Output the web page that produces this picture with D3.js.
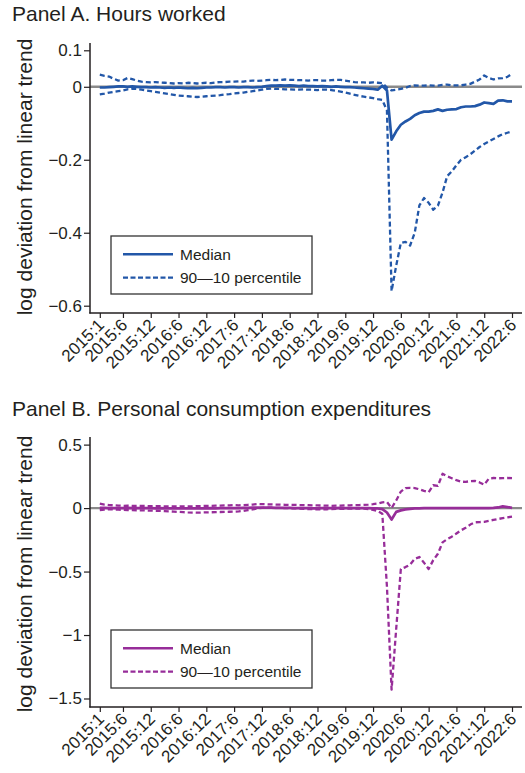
<!DOCTYPE html>
<html>
<head>
<meta charset="utf-8">
<script src="https://cdn.jsdelivr.net/npm/d3@7/dist/d3.min.js"></script>
<style>
  html, body { margin: 0; padding: 0; background: #fff; }
  svg { display: block; font-family: "Liberation Sans", Arial, Helvetica, sans-serif; }
</style>
</head>
<body>
<svg id="chart" width="525" height="773"></svg>
<script>
// Monthly observations, 2015:1 through 2022:6 (90 months)
const monthIndex = d3.range(90);

// X-axis tick positions (month index) and their labels
const tickIndex = [0, 5, 11, 17, 23, 29, 35, 41, 47, 53, 59, 65, 71, 77, 83, 89];
const tickLabels = ["2015:1", "2015:6", "2015:12", "2016:6", "2016:12", "2017:6", "2017:12",
  "2018:6", "2018:12", "2019:6", "2019:12", "2020:6", "2020:12", "2021:6", "2021:12", "2022:6"];

// Panel A: hours worked, log deviation from linear trend
const hoursMedian = [
  -0.002, -0.002, -0.001, 0.000, 0.001, 0.001, 0.000, 0.001, 0.000, -0.001,
  -0.001, -0.002, -0.001, -0.002, -0.003, -0.002, -0.003, -0.002, -0.003, -0.004,
  -0.003, -0.004, -0.003, -0.002, -0.002, -0.001, -0.001, -0.002, -0.001, -0.001,
  -0.002, -0.001, -0.001, -0.002, -0.001, 0.000, 0.002, 0.003, 0.003, 0.004,
  0.003, 0.004, 0.003, 0.002, 0.003, 0.002, 0.002, 0.001, 0.002, 0.001,
  0.000, 0.001, 0.000, -0.001, -0.001, -0.002, -0.003, -0.004, -0.005, -0.006,
  -0.008, 0.003, -0.010, -0.145, -0.122, -0.104, -0.095, -0.088, -0.078, -0.072,
  -0.068, -0.068, -0.066, -0.062, -0.066, -0.063, -0.062, -0.061, -0.056, -0.054,
  -0.054, -0.053, -0.049, -0.043, -0.045, -0.047, -0.038, -0.037, -0.040, -0.040
];
const hoursP90 = [
  0.033, 0.030, 0.028, 0.022, 0.017, 0.018, 0.024, 0.021, 0.017, 0.014,
  0.013, 0.012, 0.013, 0.012, 0.011, 0.010, 0.009, 0.010, 0.009, 0.011,
  0.010, 0.009, 0.010, 0.011, 0.010, 0.012, 0.013, 0.013, 0.014, 0.014,
  0.015, 0.014, 0.016, 0.017, 0.016, 0.017, 0.018, 0.019, 0.018, 0.019,
  0.020, 0.019, 0.019, 0.018, 0.018, 0.017, 0.018, 0.018, 0.017, 0.017,
  0.018, 0.019, 0.019, 0.017, 0.015, 0.013, 0.012, 0.012, 0.011, 0.012,
  0.011, 0.010, -0.002, -0.010, -0.008, -0.006, -0.003, 0.002, 0.004, 0.003,
  0.003, 0.004, 0.003, 0.003, 0.005, 0.006, 0.004, 0.004, 0.004, 0.006,
  0.008, 0.014, 0.020, 0.031, 0.024, 0.020, 0.023, 0.024, 0.027, 0.036
];
const hoursP10 = [
  -0.021, -0.019, -0.016, -0.014, -0.012, -0.010, -0.007, -0.005, -0.006, -0.008,
  -0.010, -0.012, -0.014, -0.016, -0.018, -0.020, -0.022, -0.024, -0.025, -0.026,
  -0.027, -0.028, -0.027, -0.026, -0.025, -0.024, -0.023, -0.021, -0.020, -0.018,
  -0.017, -0.016, -0.014, -0.012, -0.010, -0.008, -0.006, -0.005, -0.006, -0.006,
  -0.007, -0.007, -0.008, -0.008, -0.007, -0.008, -0.008, -0.009, -0.008, -0.008,
  -0.009, -0.011, -0.013, -0.016, -0.019, -0.022, -0.025, -0.027, -0.029, -0.031,
  -0.034, -0.036, -0.065, -0.560, -0.490, -0.428, -0.425, -0.435, -0.400, -0.325,
  -0.305, -0.318, -0.337, -0.326, -0.290, -0.245, -0.232, -0.215, -0.200, -0.193,
  -0.185, -0.175, -0.165, -0.157, -0.150, -0.143, -0.136, -0.130, -0.126, -0.122
];

// Panel B: personal consumption expenditures, log deviation from linear trend
const pceMedian = [
  0.002, 0.001, 0.000, 0.000, -0.001, 0.000, 0.001, 0.000, -0.001, -0.001,
  0.000, -0.001, -0.002, -0.001, -0.002, -0.002, -0.003, -0.002, -0.003, -0.003,
  -0.002, -0.003, -0.002, -0.002, -0.001, -0.002, -0.001, -0.001, 0.000, -0.001,
  0.000, 0.001, 0.002, 0.003, 0.004, 0.004, 0.003, 0.003, 0.002, 0.002,
  0.001, 0.001, 0.000, 0.000, -0.001, -0.001, -0.002, -0.002, -0.001, -0.001,
  0.000, 0.000, 0.001, 0.000, 0.000, -0.001, 0.000, 0.000, -0.001, -0.002,
  -0.003, -0.008, -0.035, -0.090, -0.030, -0.018, -0.010, -0.006, -0.003, -0.002,
  -0.001, -0.001, 0.000, 0.000, 0.000, 0.000, 0.000, 0.000, 0.000, 0.000,
  0.000, 0.000, 0.000, 0.000, 0.000, 0.001, 0.005, 0.013, 0.008, 0.002
];
const pceP90 = [
  0.035, 0.028, 0.024, 0.022, 0.020, 0.018, 0.019, 0.017, 0.018, 0.017,
  0.016, 0.015, 0.016, 0.015, 0.014, 0.014, 0.013, 0.013, 0.014, 0.013,
  0.014, 0.015, 0.016, 0.017, 0.018, 0.019, 0.020, 0.021, 0.022, 0.023,
  0.022, 0.024, 0.026, 0.028, 0.032, 0.031, 0.030, 0.029, 0.028, 0.027,
  0.026, 0.025, 0.025, 0.024, 0.024, 0.023, 0.022, 0.021, 0.020, 0.019,
  0.018, 0.019, 0.020, 0.021, 0.022, 0.023, 0.024, 0.026, 0.028, 0.031,
  0.036, 0.045, 0.048, 0.000, 0.060, 0.130, 0.158, 0.160, 0.158, 0.148,
  0.135, 0.125, 0.180, 0.175, 0.270, 0.250, 0.235, 0.220, 0.208, 0.207,
  0.212, 0.214, 0.202, 0.184, 0.232, 0.237, 0.235, 0.236, 0.237, 0.236
];
const pceP10 = [
  -0.015, -0.012, -0.010, -0.011, -0.012, -0.014, -0.015, -0.016, -0.017, -0.018,
  -0.019, -0.020, -0.021, -0.022, -0.024, -0.026, -0.028, -0.030, -0.032, -0.034,
  -0.035, -0.036, -0.035, -0.034, -0.033, -0.032, -0.031, -0.030, -0.029, -0.028,
  -0.026, -0.022, -0.016, -0.010, -0.004, 0.002, 0.004, 0.003, 0.002, 0.001,
  0.000, -0.001, -0.002, -0.004, -0.006, -0.008, -0.009, -0.010, -0.010, -0.009,
  -0.008, -0.007, -0.006, -0.005, -0.005, -0.004, -0.004, -0.005, -0.008, -0.014,
  -0.024, -0.045, -0.620, -1.430, -0.950, -0.480, -0.465, -0.445, -0.400, -0.385,
  -0.430, -0.480, -0.410, -0.360, -0.270, -0.245, -0.225, -0.200, -0.175, -0.155,
  -0.130, -0.112, -0.110, -0.108, -0.100, -0.093, -0.086, -0.079, -0.073, -0.068
];

// Y-axis ticks for each panel
const hoursTicks = [0.1, 0, -0.2, -0.4, -0.6];
const pceTicks = [0.5, 0, -0.5, -1, -1.5];

const svg = d3.select("#chart");
const textColor = "#231f20";
const fmtNum = v => (v < 0 ? "\u2212" : "") + String(Math.abs(v));

const x = d3.scaleLinear().domain([0, 89]).range([99.8, 512]);

function drawPanel(cfg) {
  const g = svg.append("g");
  const y = d3.scaleLinear().domain(cfg.yDomain).range([cfg.bottom, cfg.top]);

  // Title
  g.append("text")
    .attr("x", 12).attr("y", cfg.titleY)
    .attr("font-size", 21).attr("fill", textColor)
    .text(cfg.title);

  // Y-axis title
  g.append("text")
    .attr("transform", `translate(32, ${cfg.yTitleCenter}) rotate(-90)`)
    .attr("text-anchor", "middle")
    .attr("font-size", 21).attr("fill", textColor)
    .text("log deviation from linear trend");

  // Zero reference line
  g.append("line")
    .attr("x1", 90).attr("x2", 522)
    .attr("y1", y(0)).attr("y2", y(0))
    .attr("stroke", "#8a8a8a").attr("stroke-width", 2.4);

  // Y axis
  const yAxis = d3.axisLeft(y).tickValues(cfg.yTicks).tickSize(6).tickPadding(2)
    .tickFormat(fmtNum);
  const ya = g.append("g").attr("transform", "translate(90,0)").call(yAxis);
  ya.select(".domain").remove();
  ya.selectAll(".tick line").attr("stroke", textColor).attr("stroke-width", 1.2);
  ya.selectAll(".tick text").attr("font-size", 17).attr("fill", textColor)
    .attr("font-family", "Liberation Sans, Arial, sans-serif");
  g.append("line")
    .attr("x1", 90).attr("x2", 90).attr("y1", cfg.top).attr("y2", cfg.bottom + 0.6)
    .attr("stroke", textColor).attr("stroke-width", 1.5);

  // X axis
  const xAxis = d3.axisBottom(x).tickValues(tickIndex).tickSize(5)
    .tickFormat((d, i) => tickLabels[i]);
  const xa = g.append("g").attr("transform", `translate(0, ${cfg.bottom})`).call(xAxis);
  xa.select(".domain").remove();
  xa.selectAll(".tick line").attr("stroke", textColor).attr("stroke-width", 1.2);
  xa.selectAll(".tick text")
    .attr("font-size", 17).attr("fill", textColor)
    .attr("font-family", "Liberation Sans, Arial, sans-serif")
    .attr("text-anchor", "end")
    .attr("y", 0).attr("dy", 0)
    .attr("transform", "translate(5, 13) rotate(-45)");
  g.append("line")
    .attr("x1", 89.3).attr("x2", 522).attr("y1", cfg.bottom).attr("y2", cfg.bottom)
    .attr("stroke", textColor).attr("stroke-width", 1.5);

  // Series lines
  const line = d3.line().x(d => x(d[0])).y(d => y(d[1])).curve(d3.curveLinear);
  const pairs = arr => monthIndex.map(i => [i, arr[i]]);

  [cfg.p90, cfg.p10].forEach(arr => {
    g.append("path").datum(pairs(arr))
      .attr("d", line).attr("fill", "none")
      .attr("stroke", cfg.color).attr("stroke-width", 2.3)
      .attr("stroke-dasharray", "5,3")
      .attr("stroke-linejoin", "round");
  });
  g.append("path").datum(pairs(cfg.median))
    .attr("d", line).attr("fill", "none")
    .attr("stroke", cfg.color).attr("stroke-width", 2.7)
    .attr("stroke-linejoin", "round");

  // Legend
  const lg = g.append("g");
  lg.append("rect")
    .attr("x", 111).attr("y", cfg.legendTop).attr("width", 201).attr("height", 58)
    .attr("fill", "#fff").attr("stroke", "#333").attr("stroke-width", 1.3);
  const items = [
    { label: "Median", dash: null, width: 2.6 },
    { label: "90\u201410 percentile", dash: "5,2.5", width: 2.2 }
  ];
  items.forEach((it, k) => {
    const yy = cfg.legendTop + 18.3 + k * 23.4;
    lg.append("line")
      .attr("x1", 123).attr("x2", 173).attr("y1", yy).attr("y2", yy)
      .attr("stroke", cfg.color).attr("stroke-width", it.width)
      .attr("stroke-dasharray", it.dash);
    lg.append("text")
      .attr("x", 180).attr("y", yy + 5.5)
      .attr("font-size", 15.5).attr("fill", textColor)
      .text(it.label);
  });
}

drawPanel({
  title: "Panel A. Hours worked",
  titleY: 21,
  yTitleCenter: 177,
  top: 43, bottom: 313,
  yDomain: [-0.62, 0.12],
  yTicks: hoursTicks,
  median: hoursMedian, p90: hoursP90, p10: hoursP10,
  color: "#2257a8",
  legendTop: 236
});

drawPanel({
  title: "Panel B. Personal consumption expenditures",
  titleY: 416,
  yTitleCenter: 574,
  top: 437, bottom: 707,
  yDomain: [-1.567, 0.56],
  yTicks: pceTicks,
  median: pceMedian, p90: pceP90, p10: pceP10,
  color: "#972d99",
  legendTop: 630
});
</script>
</body>
</html>
